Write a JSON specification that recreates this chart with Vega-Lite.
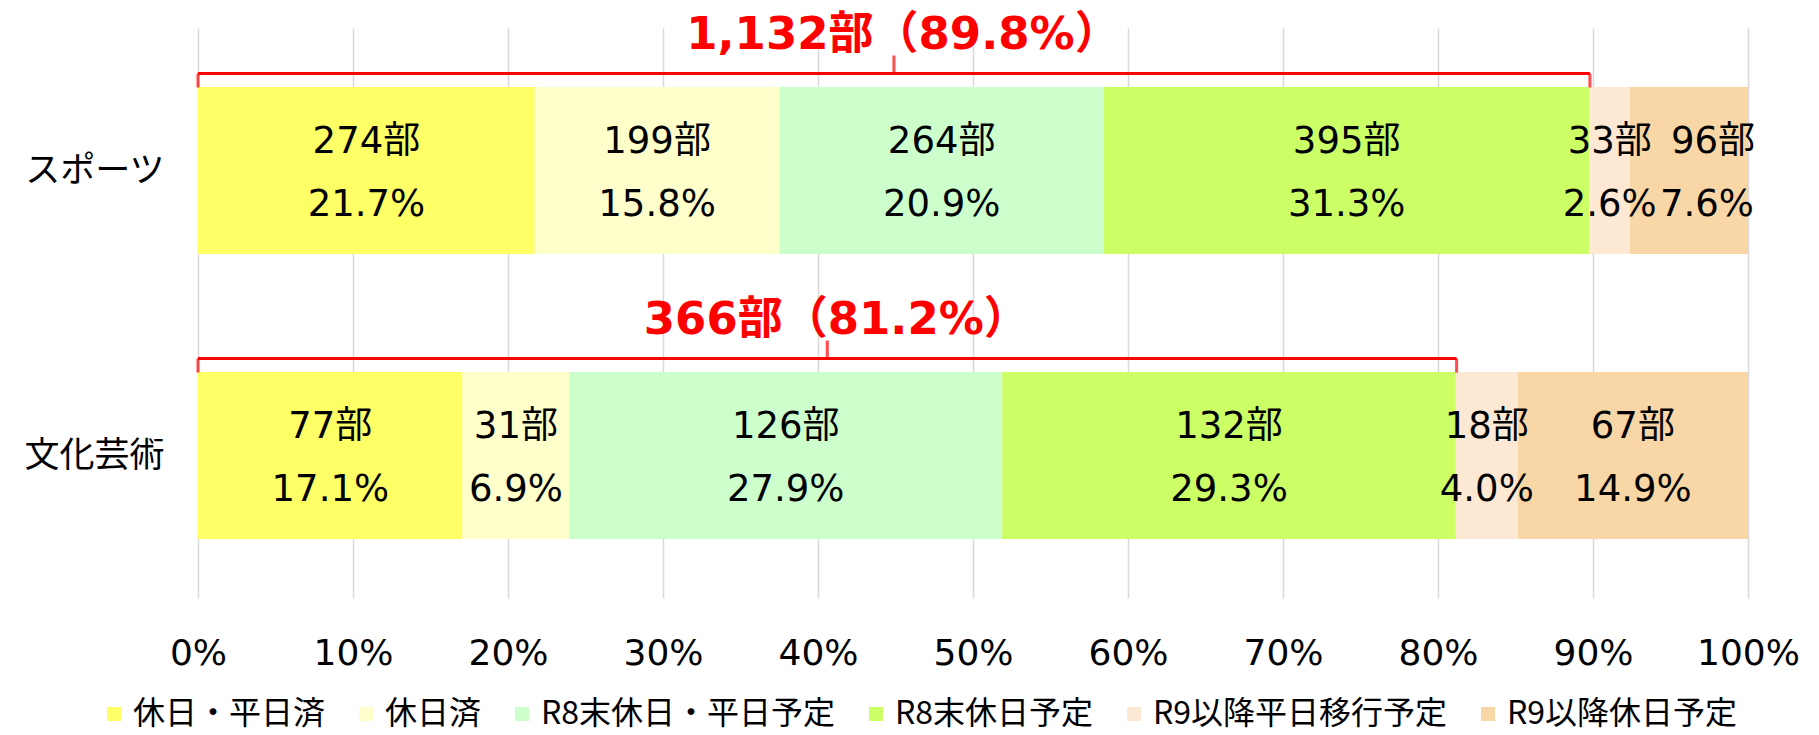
{
  "$schema": "https://vega.github.io/schema/vega-lite/v6.json",
  "width": 1550,
  "height": 570,
  "autosize": {"type": "none"},
  "padding": {"left": 198, "top": 28, "right": 71, "bottom": 137},
  "config": {"view": {"stroke": null}, "font": "DejaVu Sans, Noto Sans CJK JP"},
  "datasets": {
    "parts": [
      {"cat": "スポーツ", "k": 1, "type": "休日・平日済", "n": 274, "p": 21.7},
      {"cat": "スポーツ", "k": 2, "type": "休日済", "n": 199, "p": 15.8},
      {"cat": "スポーツ", "k": 3, "type": "R8末休日・平日予定", "n": 264, "p": 20.9},
      {"cat": "スポーツ", "k": 4, "type": "R8末休日予定", "n": 395, "p": 31.3},
      {"cat": "スポーツ", "k": 5, "type": "R9以降平日移行予定", "n": 33, "p": 2.6},
      {"cat": "スポーツ", "k": 6, "type": "R9以降休日予定", "n": 96, "p": 7.6},
      {"cat": "文化芸術", "k": 1, "type": "休日・平日済", "n": 77, "p": 17.1},
      {"cat": "文化芸術", "k": 2, "type": "休日済", "n": 31, "p": 6.9},
      {"cat": "文化芸術", "k": 3, "type": "R8末休日・平日予定", "n": 126, "p": 27.9},
      {"cat": "文化芸術", "k": 4, "type": "R8末休日予定", "n": 132, "p": 29.3},
      {"cat": "文化芸術", "k": 5, "type": "R9以降平日移行予定", "n": 18, "p": 4.0},
      {"cat": "文化芸術", "k": 6, "type": "R9以降休日予定", "n": 67, "p": 14.9}
    ],
    "totals": [
      {"cat": "スポーツ", "n": 1132, "p": 89.8},
      {"cat": "文化芸術", "n": 366, "p": 81.2}
    ]
  },
  "encoding": {
    "y": {
      "field": "cat",
      "type": "nominal",
      "sort": ["スポーツ", "文化芸術"],
      "scale": {"paddingInner": 0.414, "paddingOuter": 0.207},
      "axis": {
        "title": null,
        "domain": false,
        "ticks": false,
        "grid": false,
        "labelFontSize": 35,
        "labelColor": "#000000",
        "labelPadding": 34,
        "labelFont": "Noto Sans CJK JP"
      }
    }
  },
  "layer": [
    {
      "data": {"name": "parts"},
      "transform": [
        {"stack": "n", "groupby": ["cat"], "sort": [{"field": "k", "order": "ascending"}], "offset": "normalize", "as": ["x0", "x1"]}
      ],
      "mark": {"type": "bar"},
      "encoding": {
        "x": {
          "field": "x0",
          "type": "quantitative",
          "scale": {"domain": [0, 1], "nice": false},
          "axis": {
            "title": null,
            "values": [0, 0.1, 0.2, 0.3, 0.4, 0.5, 0.6, 0.7, 0.8, 0.9, 1],
            "format": ".0%",
            "grid": true,
            "gridColor": "#d9d9d9",
            "gridWidth": 1.5,
            "domain": false,
            "ticks": false,
            "labelFontSize": 36,
            "labelColor": "#000000",
            "labelPadding": 55,
            "labelBaseline": "middle",
            "labelFlush": false,
            "labelOverlap": false,
            "labelBound": false
          }
        },
        "x2": {"field": "x1"},
        "color": {
          "field": "type",
          "type": "nominal",
          "scale": {
            "domain": ["休日・平日済", "休日済", "R8末休日・平日予定", "R8末休日予定", "R9以降平日移行予定", "R9以降休日予定"],
            "range": ["#FFFF66", "#FFFFCC", "#CCFFCC", "#CCFF66", "#FDE9D3", "#F9D6A5"]
          },
          "legend": {
            "title": null,
            "orient": "none",
            "direction": "horizontal",
            "columns": 6,
            "legendX": -100,
            "legendY": 670,
            "symbolType": "square",
            "symbolSize": 196,
            "symbolStrokeWidth": 0,
            "labelFontSize": 32,
            "labelFont": "Noto Sans CJK JP",
            "labelColor": "#000000",
            "labelOffset": 3,
            "columnPadding": 24,
            "labelLimit": 600
          }
        },
        "order": {"field": "k"}
      }
    },
    {
      "data": {"name": "parts"},
      "transform": [
        {"stack": "n", "groupby": ["cat"], "sort": [{"field": "k", "order": "ascending"}], "offset": "normalize", "as": ["x0", "x1"]},
        {"calculate": "(datum.x0 + datum.x1) / 2", "as": "xm"},
        {"calculate": "datum.n + '部'", "as": "lab"},
        {"filter": "!(datum.cat == 'スポーツ' && datum.k == 6)"}
      ],
      "mark": {"type": "text", "fontSize": 37, "dy": -29, "baseline": "middle", "color": "#000000"},
      "encoding": {
        "x": {"field": "xm", "type": "quantitative", "title": null},
        "text": {"field": "lab"}
      }
    },
    {
      "data": {"name": "parts"},
      "transform": [
        {"stack": "n", "groupby": ["cat"], "sort": [{"field": "k", "order": "ascending"}], "offset": "normalize", "as": ["x0", "x1"]},
        {"calculate": "(datum.x0 + datum.x1) / 2", "as": "xm"},
        {"calculate": "format(datum.p, '.1f') + '%'", "as": "lab"},
        {"filter": "!(datum.cat == 'スポーツ' && datum.k == 6)"}
      ],
      "mark": {"type": "text", "fontSize": 37, "dy": 34, "baseline": "middle", "color": "#000000"},
      "encoding": {
        "x": {"field": "xm", "type": "quantitative", "title": null},
        "text": {"field": "lab"}
      }
    },
    {
      "data": {"name": "parts"},
      "transform": [
        {"stack": "n", "groupby": ["cat"], "sort": [{"field": "k", "order": "ascending"}], "offset": "normalize", "as": ["x0", "x1"]},
        {"calculate": "(datum.x0 + datum.x1) / 2", "as": "xm"},
        {"calculate": "datum.n + '部'", "as": "lab"},
        {"filter": "datum.cat == 'スポーツ' && datum.k == 6"}
      ],
      "mark": {"type": "text", "fontSize": 37, "dy": -29, "dx": 24, "baseline": "middle", "color": "#000000"},
      "encoding": {
        "x": {"field": "xm", "type": "quantitative", "title": null},
        "text": {"field": "lab"}
      }
    },
    {
      "data": {"name": "parts"},
      "transform": [
        {"stack": "n", "groupby": ["cat"], "sort": [{"field": "k", "order": "ascending"}], "offset": "normalize", "as": ["x0", "x1"]},
        {"calculate": "(datum.x0 + datum.x1) / 2", "as": "xm"},
        {"calculate": "format(datum.p, '.1f') + '%'", "as": "lab"},
        {"filter": "datum.cat == 'スポーツ' && datum.k == 6"}
      ],
      "mark": {"type": "text", "fontSize": 37, "dy": 34, "dx": 18, "baseline": "middle", "color": "#000000"},
      "encoding": {
        "x": {"field": "xm", "type": "quantitative", "title": null},
        "text": {"field": "lab"}
      }
    },
    {
      "data": {"name": "totals"},
      "transform": [
        {"calculate": "0", "as": "s"},
        {"calculate": "datum.p / 100", "as": "e"}
      ],
      "mark": {"type": "rule", "color": "#FF0000", "strokeWidth": 3, "yOffset": -97},
      "encoding": {
        "x": {"field": "s", "type": "quantitative", "title": null},
        "x2": {"field": "e"}
      }
    },
    {
      "data": {"name": "totals"},
      "transform": [{"calculate": "0", "as": "s"}],
      "mark": {"type": "tick", "color": "#FF0000", "thickness": 3, "size": 14, "yOffset": -90},
      "encoding": {
        "x": {"field": "s", "type": "quantitative", "title": null}
      }
    },
    {
      "data": {"name": "totals"},
      "transform": [{"calculate": "datum.p / 100", "as": "e"}],
      "mark": {"type": "tick", "color": "#FF0000", "thickness": 3, "size": 14, "yOffset": -90},
      "encoding": {
        "x": {"field": "e", "type": "quantitative", "title": null}
      }
    },
    {
      "data": {"name": "totals"},
      "transform": [{"calculate": "datum.p / 200", "as": "m"}],
      "mark": {"type": "tick", "color": "#FF0000", "thickness": 3, "size": 18, "yOffset": -106},
      "encoding": {
        "x": {"field": "m", "type": "quantitative", "title": null}
      }
    },
    {
      "data": {"name": "totals"},
      "transform": [
        {"calculate": "datum.p / 200", "as": "m"},
        {"calculate": "format(datum.n, ',') + '部（' + format(datum.p, '.1f') + '%）'", "as": "lab"}
      ],
      "mark": {"type": "text", "color": "#FF0000", "fontSize": 45, "fontWeight": "bold", "yOffset": -136, "dx": 9, "baseline": "middle"},
      "encoding": {
        "x": {"field": "m", "type": "quantitative", "title": null},
        "text": {"field": "lab"}
      }
    }
  ]
}
